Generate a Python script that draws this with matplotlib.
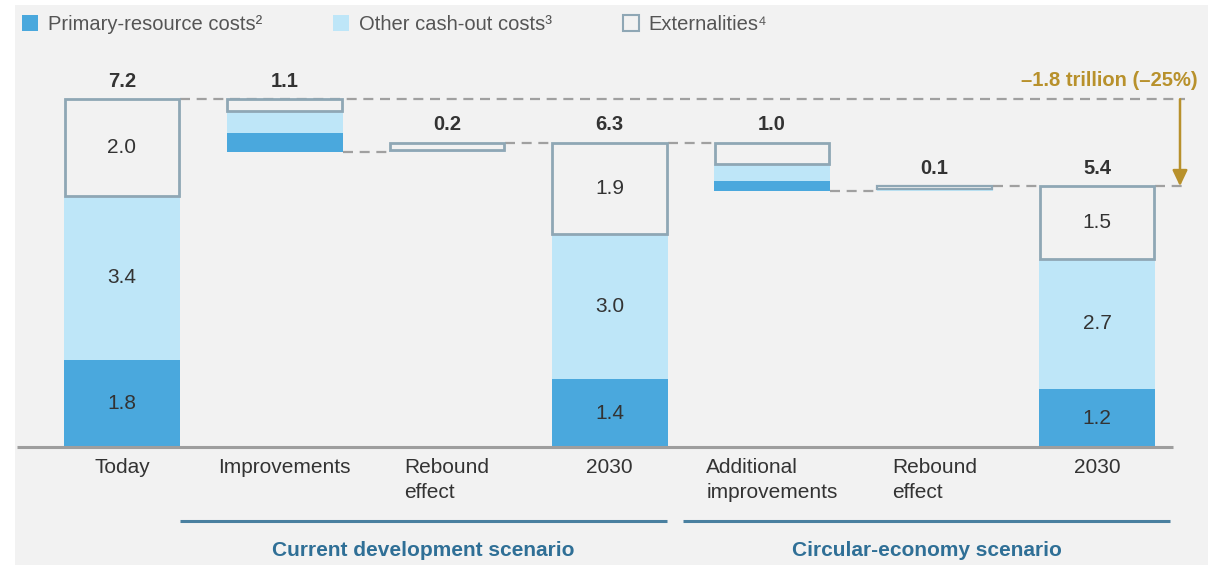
import matplotlib
matplotlib.use("Agg")
import matplotlib.pyplot as plt
from matplotlib.patches import Patch, Rectangle

# ---------------- data ----------------
categories = ["Today", "Improvements", "Rebound\neffect", "2030",
              "Additional\nimprovements", "Rebound\neffect", "2030"]
kinds = ["total", "decrease", "increase", "total", "decrease", "increase", "total"]
primary = [1.8, 0.4, 0.0, 1.4, 0.2, 0.0, 1.2]
other = [3.4, 0.45, 0.05, 3.0, 0.35, 0.05, 2.7]
extern = [2.0, 0.25, 0.15, 1.9, 0.45, 0.05, 1.5]
totals = [7.2, 1.1, 0.2, 6.3, 1.0, 0.1, 5.4]
seg_labels = [["1.8", "3.4", "2.0"], None, None, ["1.4", "3.0", "1.9"],
              None, None, ["1.2", "2.7", "1.5"]]
scenarios = ["Current development scenario", "Circular-economy scenario"]
legend_labels = ["Primary-resource costs\u00b2", "Other cash-out costs\u00b3", "Externalities\u2074"]
change_label = "\u20131.8 trillion (\u201325%)"

# ---------------- style ----------------
C_PRIM = "#4aa8dd"
C_OTHER = "#bee6f8"
C_EDGE = "#8fa7b5"
C_BG = "#f2f2f2"
C_TXT = "#333333"
C_DASH = "#a0a0a0"
C_GOLD = "#b8912c"
C_SCEN = "#2f6f96"
C_SCENLINE = "#4a80a0"
plt.rcParams['font.family'] = ['Liberation Sans', 'DejaVu Sans']

W, H = 1208, 565
fig = plt.figure(figsize=(W / 100, H / 100), dpi=100)
fig.patch.set_facecolor("white")
fig.patches.append(Rectangle((15 / W, 0), 1, (H - 5) / H, transform=fig.transFigure,
                             facecolor=C_BG, edgecolor="none", zorder=-10))

ax = fig.add_axes([0, 0, 1, 1])
ax.set_facecolor("none")
ax.axis("off")

X0, DX = 122, 162.5      # pixel centre of first bar, spacing
Y0, DY = 447, 48.3       # pixel baseline, px per unit
ax.set_xlim(-X0 / DX, (W - X0) / DX)
ax.set_ylim(-(H - Y0) / DY, Y0 / DY)

def px(x):
    return (x - X0) / DX

def py(y):
    return (Y0 - y) / DY

bw = 116 / DX
xs = list(range(len(categories)))

# compute bar bottoms
level = 0.0
bottoms = []
tops = []
for k, t in zip(kinds, totals):
    if k == "total":
        b = 0.0
        level = t
    elif k == "decrease":
        b = level - t
        level = level - t
    else:
        b = level
        level = level + t
    bottoms.append(b)
    tops.append(b + t)

for i in xs:
    b = bottoms[i]
    if primary[i] > 0:
        ax.bar(i, primary[i], bottom=b, width=bw, color=C_PRIM, edgecolor="none", zorder=3)
    b2 = b + primary[i]
    if other[i] > 0:
        ax.bar(i, other[i], bottom=b2, width=bw, color=C_OTHER, edgecolor="none", zorder=3)
    b3 = b2 + other[i]
    lw = 2.0 if extern[i] > 0.1 else 1.6
    ax.bar(i, extern[i], bottom=b3, width=bw - 0.012, color=C_BG, edgecolor=C_EDGE,
           linewidth=lw, zorder=4)
    # total labels
    ax.text(i, tops[i] + 0.37, f"{totals[i]:.1f}", ha="center", va="center",
            fontsize=14.5, fontweight="bold", color=C_TXT, zorder=6)
    if seg_labels[i] is not None:
        for val, lo, h in zip(seg_labels[i], [b, b2, b3], [primary[i], other[i], extern[i]]):
            ax.text(i, lo + h / 2, val, ha="center", va="center", fontsize=15,
                    color=C_TXT, zorder=6)

# connectors
dash = dict(color=C_DASH, linewidth=1.6, linestyle=(0, (4.5, 3)), zorder=2)
level_after = []
for i in xs:
    if kinds[i] == "decrease":
        level_after.append(bottoms[i])
    else:
        level_after.append(tops[i])
for i in range(len(xs) - 1):
    y = level_after[i]
    if i == 0:
        ax.plot([i + bw / 2, px(1185)], [y, y], **dash)
    else:
        ax.plot([i + bw / 2, i + 1 - bw / 2], [y, y], **dash)
ax.plot([xs[-1] + bw / 2, px(1185)], [tops[-1], tops[-1]], **dash)

# baseline
ax.plot([px(17), px(1173)], [0, 0], color="#9e9e9e", linewidth=2.2, zorder=5,
        solid_capstyle="butt")

# change arrow
ax.annotate("", xy=(px(1180), tops[-1]), xytext=(px(1180), tops[0]),
            arrowprops=dict(arrowstyle="-|>,head_length=0.95,head_width=0.45",
                            color=C_GOLD, linewidth=1.8, shrinkA=0, shrinkB=0), zorder=6)
ax.text(px(1198), py(80), change_label, ha="right", va="center", fontsize=14.5,
        fontweight="bold", color=C_GOLD)

# category labels
for i, c in enumerate(categories):
    ax.text(i, py(458), c, ha="center", va="top", fontsize=15, color=C_TXT,
            multialignment="left", linespacing=1.42)

# scenario brackets
for (x1, x2), s in zip([(180, 667), (683, 1170)], scenarios):
    ax.plot([px(x1), px(x2)], [py(521), py(521)], color=C_SCENLINE, linewidth=2.2,
            solid_capstyle="butt")
    ax.text((px(x1) + px(x2)) / 2, py(550), s, ha="center", va="center",
            fontsize=15, fontweight="bold", color=C_SCEN)

# legend
handles = [Patch(facecolor=C_PRIM, edgecolor="none"),
           Patch(facecolor=C_OTHER, edgecolor="none"),
           Patch(facecolor=C_BG, edgecolor=C_EDGE, linewidth=1.5)]
leg = ax.legend(handles, legend_labels, ncol=3, frameon=False, loc="upper left",
                bbox_to_anchor=(22 / W, 1 - 15 / H), borderpad=0, borderaxespad=0,
                fontsize=14.5, handlelength=0.8, handleheight=0.8,
                handletextpad=0.5, columnspacing=3.5, labelcolor="#555555")

fig.savefig("out.png", dpi=100, facecolor=fig.get_facecolor())
